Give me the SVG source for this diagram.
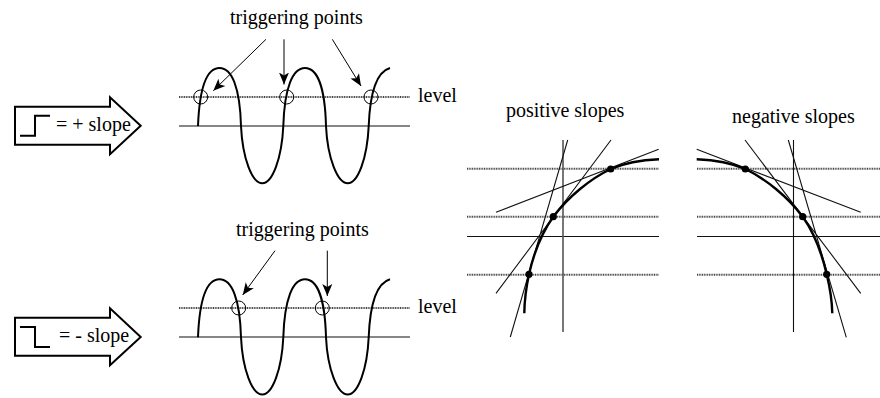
<svg xmlns="http://www.w3.org/2000/svg" width="880" height="398" viewBox="0 0 880 398">
<style>
text{font-family:"Liberation Serif","Times New Roman",serif;font-size:20px;fill:#000}
.l{fill:none;stroke:#111;stroke-width:1.1}
.d{fill:none;stroke:#444;stroke-width:2;stroke-dasharray:1 .7}
.w{fill:none;stroke:#000;stroke-width:2}
.c{fill:none;stroke:#000;stroke-width:2.4}
.o{fill:none;stroke:#000;stroke-width:1}
.b{fill:#fff;stroke:#000;stroke-width:2}
.a{fill:none;stroke:#000;stroke-width:1;marker-end:url(#h)}
</style>
<defs>
<marker id="h" markerUnits="userSpaceOnUse" markerWidth="14" markerHeight="14" refX="12" refY="7" orient="auto">
<path d="M0 2L12 7L0 12L3 7Z" fill="#000"/>
</marker>
<path id="wave" d="M198 126C199.5 88 207 68 219.5 68C232 68 240 88 241 126C242.5 158 252 183.3 262.3 183.3C272.5 183.3 281.8 158 283.3 126C284.5 88 292.5 68 305 68C317.5 68 325 88 326 126C327.5 158 337.5 183.3 347.7 183.3C358 183.3 367.2 158 368.7 126C369.9 95 376 72 390 68"/>
</defs>
<g id="pos-arrow">
<path class="b" d="M15 106.7H110V97.3L140.7 125.7L110 154.3V144.7H15Z"/>
<path class="w" d="M20 135.7H35V115.7H50"/>
<text x="56" y="130.5">= + slope</text>
</g>
<g id="pos-wave">
<path class="d" d="M179 97H410"/>
<path class="l" d="M179 126H410"/>
<use href="#wave" class="w"/>
<circle class="o" cx="200.7" cy="97" r="7"/>
<circle class="o" cx="286.7" cy="97" r="7"/>
<circle class="o" cx="371" cy="97" r="7"/>
<text x="230" y="24">triggering points</text>
<text x="418" y="102">level</text>
</g>
<g id="neg-arrow">
<path class="b" d="M15 317.7H110V308.3L140.7 337L110 365.3V355.7H15Z"/>
<path class="w" d="M20 327H35V347H50"/>
<text x="59" y="342">= - slope</text>
</g>
<g id="neg-wave">
<path class="d" d="M179 308H410"/>
<path class="l" d="M179 337H410"/>
<use href="#wave" class="w" transform="translate(0 211.3)"/>
<circle class="o" cx="238.7" cy="308" r="7"/>
<circle class="o" cx="322.3" cy="308" r="7"/>
<text x="236" y="236">triggering points</text>
<text x="418" y="313">level</text>
</g>
<g id="positive-slopes">
<path class="d" d="M467 168.7H659M467 216.7H659M467 274.7H659"/>
<path class="l" d="M467 236.5H659"/>
<path fill="none" stroke="#555" stroke-width="1.6" d="M563 140V332"/>
<path class="l" d="M567.7 140L510.3 337M611 140L496 293.3M658.7 149.3L496 212.3"/>
<path class="c" d="M524.3 313.3C524.5 300 526 288 529 274.3C534 252 543 231 553.3 216.7C568 197 590 179 610.7 169C627 162 642 160 659 159.3"/>
<circle cx="529" cy="274.3" r="3.6"/>
<circle cx="553.3" cy="216.7" r="3.6"/>
<circle cx="610.7" cy="169" r="3.6"/>
<text x="506" y="117">positive slopes</text>
</g>
<g id="negative-slopes">
<path class="d" d="M697 168.7H880M697 216.7H880M697 274.7H880"/>
<path class="l" d="M697 236.5H880M793.5 140V332"/>
<path class="l" d="M788.3 140L846.3 337.3M745 140L860.7 293.3M696.7 149.3L860.7 212.3"/>
<path class="c" d="M832.3 313.3C832 300 830 288 826.7 274.3C821.5 252 813 231 802.7 216.7C788 197 766 179 745.3 169C729 162 713 160 696.7 159.3"/>
<circle cx="826.7" cy="274.3" r="3.6"/>
<circle cx="802.7" cy="216.7" r="3.6"/>
<circle cx="745.3" cy="169" r="3.6"/>
<text x="732" y="122.5">negative slopes</text>
</g>
<g id="connectors">
<path class="a" d="M266 39.3L213.3 90.7"/>
<path class="a" d="M284 39.3V84.5"/>
<path class="a" d="M332.3 39.3L361 86"/>
<path class="a" d="M275 250.7L242.7 295"/>
<path class="a" d="M327.3 250.7V296"/>
</g>
</svg>
